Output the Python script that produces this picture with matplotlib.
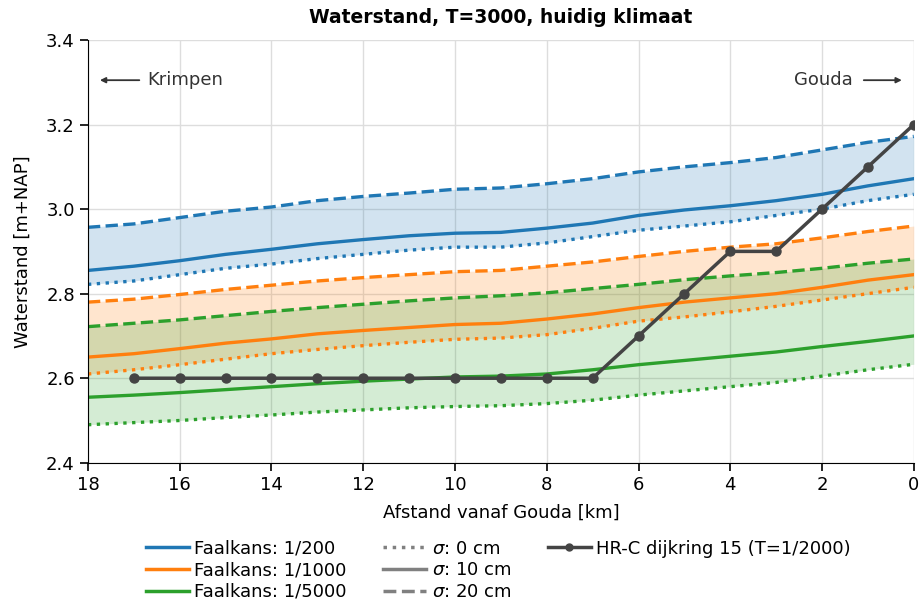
import matplotlib.pyplot as plt
from matplotlib.lines import Line2D
import numpy as np

# afstand vanaf Gouda [km]
km = np.arange(18, -1, -1)

# waterstanden [m+NAP] per faalkans, voor sigma 0 / 10 / 20 cm
blauw_0 = [2.822, 2.830, 2.845, 2.860, 2.870, 2.883, 2.893, 2.903, 2.910, 2.910,
           2.920, 2.935, 2.950, 2.960, 2.970, 2.985, 3.000, 3.020, 3.035]
blauw_10 = [2.855, 2.865, 2.878, 2.893, 2.905, 2.918, 2.928, 2.937, 2.943, 2.945,
            2.955, 2.967, 2.985, 2.998, 3.008, 3.020, 3.035, 3.055, 3.072]
blauw_20 = [2.957, 2.965, 2.980, 2.995, 3.005, 3.020, 3.030, 3.038, 3.047, 3.050,
            3.060, 3.072, 3.088, 3.100, 3.110, 3.122, 3.140, 3.158, 3.172]

oranje_0 = [2.610, 2.620, 2.632, 2.645, 2.658, 2.668, 2.677, 2.685, 2.692, 2.695,
            2.703, 2.718, 2.735, 2.745, 2.757, 2.770, 2.785, 2.800, 2.815]
oranje_10 = [2.650, 2.658, 2.670, 2.683, 2.693, 2.705, 2.713, 2.720, 2.727, 2.730,
             2.740, 2.752, 2.767, 2.780, 2.790, 2.800, 2.815, 2.832, 2.845]
oranje_20 = [2.780, 2.787, 2.798, 2.810, 2.820, 2.830, 2.838, 2.845, 2.852, 2.855,
             2.865, 2.875, 2.888, 2.900, 2.910, 2.918, 2.932, 2.947, 2.960]

groen_0 = [2.490, 2.495, 2.500, 2.507, 2.513, 2.520, 2.525, 2.530, 2.533, 2.535,
           2.540, 2.548, 2.560, 2.570, 2.580, 2.590, 2.605, 2.620, 2.633]
groen_10 = [2.555, 2.560, 2.566, 2.573, 2.580, 2.587, 2.593, 2.598, 2.603, 2.605,
            2.610, 2.620, 2.632, 2.642, 2.652, 2.662, 2.675, 2.687, 2.700]
groen_20 = [2.722, 2.730, 2.738, 2.748, 2.758, 2.767, 2.775, 2.783, 2.790, 2.795,
            2.802, 2.812, 2.822, 2.833, 2.842, 2.850, 2.860, 2.872, 2.882]

# HR-C dijkring 15
hrc_km = np.arange(17, -1, -1)
hrc = [2.6, 2.6, 2.6, 2.6, 2.6, 2.6, 2.6, 2.6, 2.6, 2.6, 2.6,
       2.7, 2.8, 2.9, 2.9, 3.0, 3.1, 3.2]

reeksen = [
    ('Faalkans: 1/200', 'tab:blue', blauw_0, blauw_10, blauw_20),
    ('Faalkans: 1/1000', 'tab:orange', oranje_0, oranje_10, oranje_20),
    ('Faalkans: 1/5000', 'tab:green', groen_0, groen_10, groen_20),
]

plt.rcParams['font.family'] = 'DejaVu Sans'
plt.rcParams['font.size'] = 13

fig = plt.figure(figsize=(9.23, 6.01), dpi=100)
ax = fig.add_axes([0.0953, 0.230, 0.8947, 0.7034])

for naam, kleur, s0, s10, s20 in reeksen:
    ax.fill_between(km, s0, s20, color=kleur, alpha=0.2, lw=0)
    ax.plot(km, s0, ':', color=kleur, lw=2.4)
    ax.plot(km, s10, '-', color=kleur, lw=2.4)
    ax.plot(km, s20, '--', color=kleur, lw=2.4)

ax.plot(hrc_km, hrc, '-o', color='#444444', lw=2.5, ms=6.5)

ax.set_xlim(18, 0)
ax.set_ylim(2.4, 3.4)
ax.set_xticks(np.arange(18, -1, -2))
ax.set_yticks(np.arange(2.4, 3.41, 0.2))
ax.grid(True, color='#dddddd', lw=1)
ax.set_axisbelow(True)
for kant in ['top', 'right']:
    ax.spines[kant].set_visible(False)
ax.tick_params(direction='out', length=6, width=1.2, labelsize=13)

ax.set_title('Waterstand, T=3000, huidig klimaat', fontweight='bold', fontsize=13.5, pad=12)
ax.set_xlabel('Afstand vanaf Gouda [km]', fontsize=13, labelpad=7)
ax.set_ylabel('Waterstand [m+NAP]', fontsize=13, labelpad=10)

pijl = dict(arrowstyle='-|>', color='#333333', lw=1.3, mutation_scale=8)
ax.annotate('', xy=(17.8, 3.305), xytext=(16.82, 3.305), arrowprops=pijl)
ax.text(16.7, 3.305, 'Krimpen', ha='left', va='center', fontsize=13, color='#333333')
ax.annotate('', xy=(0.2, 3.305), xytext=(1.15, 3.305), arrowprops=pijl)
ax.text(1.32, 3.305, 'Gouda', ha='right', va='center', fontsize=13, color='#333333')

leeg = Line2D([], [], color='none')
handles = [Line2D([], [], color=r[1], lw=2.5) for r in reeksen]
labels = [r[0] for r in reeksen]
handles += [Line2D([], [], color='gray', ls=ls, lw=2.5) for ls in [':', '-', '--']]
labels += [r'$\sigma$: 0 cm', r'$\sigma$: 10 cm', r'$\sigma$: 20 cm']
handles += [Line2D([], [], color='#444444', lw=2.5, marker='o', ms=5), leeg, leeg]
labels += ['HR-C dijkring 15 (T=1/2000)', '', '']
ax.legend(handles, labels, ncol=3, loc='upper center', bbox_to_anchor=(0.497, -0.152),
          frameon=False, fontsize=13, handlelength=2.4, labelspacing=0.2,
          columnspacing=2.0, handletextpad=0.3, borderpad=0.2)

fig.savefig('out.png', dpi=100)
